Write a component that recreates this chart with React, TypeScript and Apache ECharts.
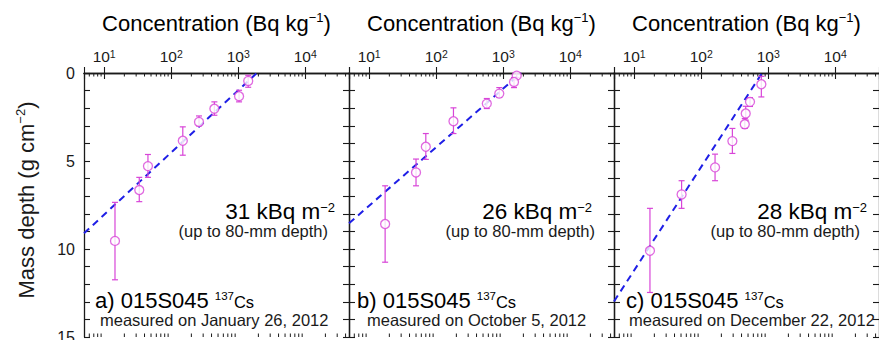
import React, { useEffect, useRef } from "react";
import * as echarts from "echarts";

// ---------- data ----------
const conc1 = [1410, 1030, 441, 260, 149, 45, 33.4, 14.5];
const depth1 = [0.45, 1.32, 2.03, 2.78, 3.85, 5.29, 6.65, 9.54];
const lo1 = [0.13, 0.98, 1.64, 2.44, 3.06, 4.63, 5.93, 7.35];
const hi1 = [0.81, 1.64, 2.4, 3.0, 4.67, 5.93, 7.31, 11.75];
const fitX1 = [5, 1900];
const fitY1 = [9.11, 0];

const conc2 = [1590, 1450, 874, 569, 181, 70, 50, 17.3];
const depth2 = [0.15, 0.51, 1.17, 1.74, 2.74, 4.19, 5.65, 8.58];
const lo2 = [0.0, 0.26, 0.83, 1.45, 1.98, 3.44, 4.89, 6.41];
const hi2 = [0.26, 0.83, 1.39, 2.02, 3.44, 4.91, 6.41, 10.75];
const fitX2 = [5, 1850];
const fitY2 = [8.54, 0];

const conc3 = [790, 535, 462, 447, 292, 161, 51, 17.2];
const depth3 = [0.64, 1.64, 2.3, 2.91, 3.87, 5.36, 6.9, 10.1];
const lo3 = [0.19, 1.4, 1.89, 2.59, 3.15, 4.61, 6.12, 7.69];
const hi3 = [1.36, 1.9, 2.68, 3.15, 4.57, 6.12, 7.69, 12.47];
const fitX3 = [5, 810];
const fitY3 = [12.98, 0];

const panelLetters = ["a)", "b)", "c)"];
const siteName = "015S045";
const nuclide = "137";
const dates = ["January 26, 2012", "October 5, 2012", "December 22, 2012"];
const inventories = [31, 26, 28];
const depthNote = "(up to 80-mm depth)";
const xTitle = ["Concentration (Bq kg", "−1", ")"];
const yTitle = ["Mass depth (g cm", "−2", ")"];
const xMin = 5;
const xMax = 45000;
const depthMin = 0;
const depthMax = 15;
const minorTickValues = [
  6, 7, 8, 9, 20, 30, 40, 50, 60, 70, 80, 90, 200, 300, 400, 500, 600, 700,
  800, 900, 2000, 3000, 4000, 5000, 6000, 7000, 8000, 9000, 20000, 30000, 40000,
];

const panels = [
  { conc: conc1, depth: depth1, lo: lo1, hi: hi1, fitX: fitX1, fitY: fitY1 },
  { conc: conc2, depth: depth2, lo: lo2, hi: hi2, fitX: fitX2, fitY: fitY2 },
  { conc: conc3, depth: depth3, lo: lo3, hi: hi3, fitX: fitX3, fitY: fitY3 },
];

// ---------- style / layout ----------
const FONT = '"Liberation Sans", Arial, Helvetica, sans-serif';
const AXIS = "#1a1a1a";
const MAGENTA = "#d845d8";
const BLUE = "#1f1fe6";
const GRID_LEFT = 84;
const GRID_TOP = 73;
const GRID_W = 265;
const GRID_H = 264;

// per-panel text offsets (layout)
const invRight = [-14, -22, -12];
const noteRight = [-21, -19, -19];
const labLeft = [11, 8, 12];
const measLeft = [16, 18, 15];

const supRich = (size: number, supSize: number, lh: number) => ({
  a: { fontSize: size, fontFamily: FONT, color: AXIS, lineHeight: lh },
  s: {
    fontSize: supSize,
    fontFamily: FONT,
    color: AXIS,
    lineHeight: supSize,
    verticalAlign: "top",
  },
});

function buildOption() {
  const grid: any[] = [];
  const xAxis: any[] = [];
  const yAxis: any[] = [];
  const series: any[] = [];
  const graphic: any[] = [];

  panels.forEach((p, i) => {
    const left = GRID_LEFT + GRID_W * i;
    const right = left + GRID_W;
    grid.push({
      left,
      top: GRID_TOP,
      width: GRID_W,
      height: GRID_H,
      containLabel: false,
      outerBoundsMode: "none",
    });
    const axisLine = { show: true, lineStyle: { color: AXIS, width: 1.3 } };
    xAxis.push({
      type: "log",
      logBase: 10,
      gridIndex: i,
      position: "top",
      min: xMin,
      max: xMax,
      axisLine,
      axisTick: { show: true, inside: true, length: 6, lineStyle: { color: AXIS, width: 1.1 } },
      splitLine: { show: false },
      axisLabel: {
        show: true,
        margin: 8,
        formatter: (v: number) => {
          const e = Math.log10(v);
          const r = Math.round(e);
          if (Math.abs(e - r) > 1e-6) return "";
          return `{b|10}{s|${r}}`;
        },
        rich: {
          b: { fontSize: 15.5, fontFamily: FONT, color: AXIS, lineHeight: 17 },
          s: { fontSize: 10.5, fontFamily: FONT, color: AXIS, lineHeight: 10, verticalAlign: "top" },
        },
      },
    });
    xAxis.push({
      type: "log",
      logBase: 10,
      gridIndex: i,
      position: "bottom",
      min: xMin,
      max: xMax,
      axisLine,
      axisTick: { show: true, inside: true, length: 6, lineStyle: { color: AXIS, width: 1.1 } },
      splitLine: { show: false },
      axisLabel: { show: false },
    });
    const yBase = {
      type: "value",
      gridIndex: i,
      inverse: true,
      min: depthMin,
      max: depthMax,
      interval: 5,
      axisLine,
      axisTick: { show: true, inside: true, length: 6, lineStyle: { color: AXIS, width: 1.1 } },
      minorTick: { show: true, splitNumber: 5, length: 6, lineStyle: { color: AXIS, width: 1.1 } },
      splitLine: { show: false },
    };
    yAxis.push({
      ...yBase,
      position: "left",
      axisLabel: {
        show: i === 0,
        fontSize: 16,
        fontFamily: FONT,
        color: AXIS,
        margin: 9,
      },
      ...(i === 0
        ? {
            name: `{a|${yTitle[0]}}{s|${yTitle[1]}}{a|${yTitle[2]}}`,
            nameLocation: "middle",
            nameRotate: 90,
            nameGap: 46,
            nameTextStyle: { rich: supRich(22, 13, 24), padding: [0, 0, 0, 10] },
          }
        : {}),
    });
    yAxis.push({ ...yBase, position: "right", axisLabel: { show: false } });

    const xi = i * 2;
    const yi = i * 2;

    // minor log ticks (top and bottom)
    series.push({
      type: "custom",
      xAxisIndex: xi,
      yAxisIndex: yi,
      silent: true,
      clip: false,
      data: minorTickValues.map((v) => [v, depthMin]),
      encode: { x: 0, y: 1 },
      renderItem: (params: any, api: any) => {
        const v = api.value(0);
        const t = api.coord([v, depthMin]);
        const b = api.coord([v, depthMax]);
        return {
          type: "group",
          children: [
            { type: "line", shape: { x1: t[0], y1: t[1], x2: t[0], y2: t[1] + 3.5 }, style: { stroke: AXIS, lineWidth: 1 } },
            { type: "line", shape: { x1: b[0], y1: b[1], x2: b[0], y2: b[1] - 3.5 }, style: { stroke: AXIS, lineWidth: 1 } },
          ],
        };
      },
      z: 1,
    });

    // fitted line
    series.push({
      type: "line",
      xAxisIndex: xi,
      yAxisIndex: yi,
      data: p.fitX.map((x, k) => [x, p.fitY[k]]),
      symbol: "none",
      lineStyle: { color: BLUE, width: 2, type: [7, 5] },
      silent: true,
      z: 2,
    });

    // error bars (layer depth ranges)
    series.push({
      type: "custom",
      xAxisIndex: xi,
      yAxisIndex: yi,
      silent: true,
      data: p.conc.map((x, k) => [x, p.lo[k], p.hi[k]]),
      encode: { x: 0, y: [1, 2] },
      renderItem: (params: any, api: any) => {
        const x = api.value(0);
        const a = api.coord([x, api.value(1)]);
        const b = api.coord([x, api.value(2)]);
        const st = { stroke: MAGENTA, lineWidth: 1.2 };
        return {
          type: "group",
          children: [
            { type: "line", shape: { x1: a[0], y1: a[1], x2: b[0], y2: b[1] }, style: st },
            { type: "line", shape: { x1: a[0] - 3, y1: a[1], x2: a[0] + 3, y2: a[1] }, style: st },
            { type: "line", shape: { x1: b[0] - 3, y1: b[1], x2: b[0] + 3, y2: b[1] }, style: st },
          ],
        };
      },
      z: 3,
    });

    // points
    series.push({
      type: "scatter",
      xAxisIndex: xi,
      yAxisIndex: yi,
      data: p.conc.map((x, k) => [x, p.depth[k]]),
      symbol: "circle",
      symbolSize: 9,
      itemStyle: { color: "#ffffff", borderColor: MAGENTA, borderWidth: 1.3 },
      silent: true,
      z: 4,
    });

    // titles and annotations
    graphic.push({
      type: "text",
      x: (left + right) / 2,
      y: 23,
      style: {
        text: `{a|${xTitle[0]}}{s|${xTitle[1]}}{a|${xTitle[2]}}`,
        rich: supRich(22, 13, 24),
        align: "center",
        verticalAlign: "middle",
      },
    });
    graphic.push({
      type: "text",
      x: right + invRight[i],
      y: 211,
      style: {
        text: `{a|${inventories[i]} kBq m}{s|−2}`,
        rich: supRich(22.5, 13, 20),
        align: "right",
        verticalAlign: "middle",
      },
    });
    graphic.push({
      type: "text",
      x: right + noteRight[i],
      y: 231,
      style: {
        text: depthNote,
        font: `16.5px ${FONT}`,
        fill: AXIS,
        align: "right",
        verticalAlign: "middle",
      },
    });
    graphic.push({
      type: "text",
      x: left + labLeft[i],
      y: 300,
      style: {
        text: `{a|${panelLetters[i]} ${siteName}}{s|${nuclide}}{c|Cs}`,
        rich: {
          a: { fontSize: 22, fontFamily: FONT, color: AXIS, lineHeight: 20 },
          s: { fontSize: 11.5, fontFamily: FONT, color: AXIS, lineHeight: 12, verticalAlign: "top", padding: [0, 0, 0, 6] },
          c: { fontSize: 16.5, fontFamily: FONT, color: AXIS, lineHeight: 20, padding: [3, 0, 0, 0] },
        },
        align: "left",
        verticalAlign: "middle",
      },
    });
    graphic.push({
      type: "text",
      x: left + measLeft[i],
      y: 319.5,
      style: {
        text: `measured on ${dates[i]}`,
        font: `16.5px ${FONT}`,
        fill: AXIS,
        align: "left",
        verticalAlign: "middle",
      },
    });
  });

  return {
    animation: false,
    backgroundColor: "#ffffff",
    grid,
    xAxis,
    yAxis,
    series,
    graphic,
  };
}

export default function App() {
  const ref = useRef<HTMLDivElement>(null);
  useEffect(() => {
    document.body.style.margin = "0";
    if (!ref.current) return;
    const chart = echarts.init(ref.current, undefined, { renderer: "svg" });
    chart.setOption(buildOption() as any);
    return () => chart.dispose();
  }, []);
  return <div ref={ref} style={{ width: 879, height: 340 }} />;
}
